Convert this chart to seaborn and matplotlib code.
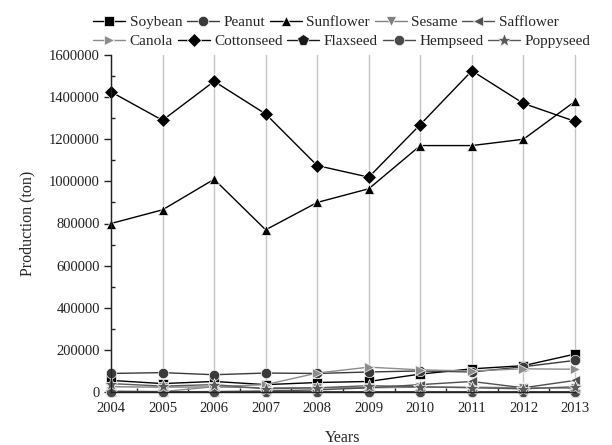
import numpy as np
import pandas as pd
import matplotlib
matplotlib.use("Agg")
import matplotlib.pyplot as plt
from matplotlib.ticker import MultipleLocator, StrMethodFormatter
import seaborn as sns

years = [2004, 2005, 2006, 2007, 2008, 2009, 2010, 2011, 2012, 2013]

soybean = [55000, 40000, 50000, 35000, 45000, 50000, 85000, 110000, 125000, 180000]
peanut = [88000, 92000, 82000, 90000, 88000, 95000, 100000, 95000, 120000, 150000]
sunflower = [800000, 865000, 1010000, 770000, 900000, 965000, 1170000, 1170000, 1200000, 1380000]
sesame = [25000, 23000, 24000, 20000, 20000, 20000, 23000, 23000, 20000, 18000]
safflower = [1000, 1000, 2000, 5000, 10000, 20000, 35000, 50000, 20000, 55000]
canola = [5000, 2000, 25000, 35000, 90000, 118000, 105000, 100000, 110000, 108000]
cottonseed = [1425000, 1290000, 1475000, 1320000, 1075000, 1020000, 1270000, 1525000, 1370000, 1285000]
flaxseed = [800, 900, 1000, 700, 600, 500, 600, 800, 700, 900]
hempseed = [30, 30, 20, 20, 20, 10, 10, 10, 10, 10]
poppyseed = [40000, 28000, 35000, 15000, 20000, 30000, 25000, 20000, 15000, 25000]

crops = ["Soybean", "Peanut", "Sunflower", "Sesame", "Safflower",
         "Canola", "Cottonseed", "Flaxseed", "Hempseed", "Poppyseed"]
series = [soybean, peanut, sunflower, sesame, safflower,
          canola, cottonseed, flaxseed, hempseed, poppyseed]

df = pd.DataFrame({
    "Year": np.tile(years, len(crops)),
    "Production": np.concatenate(series),
    "Crop": np.repeat(crops, len(years)),
})

colors = {
    "Soybean": "#000000", "Peanut": "#3a3a3a", "Sunflower": "#000000",
    "Sesame": "#808080", "Safflower": "#505050", "Canola": "#8c8c8c",
    "Cottonseed": "#000000", "Flaxseed": "#1a1a1a", "Hempseed": "#4a4a4a",
    "Poppyseed": "#5a5a5a",
}
markers = {
    "Soybean": "s", "Peanut": "o", "Sunflower": "^", "Sesame": "v",
    "Safflower": "<", "Canola": ">", "Cottonseed": "D", "Flaxseed": "p",
    "Hempseed": "o", "Poppyseed": "*",
}

sns.set_theme(style="ticks")
plt.rcParams["font.family"] = ["Liberation Serif", "DejaVu Serif"]
plt.rcParams["font.size"] = 10.5

fig = plt.figure(figsize=(6.12, 4.45), dpi=100)
ax = fig.add_axes([111 / 612, 53 / 445, 464 / 612, 337 / 445])

# light vertical guide lines at each year
for yr in years:
    ax.axvline(yr, color="#c4c4c4", lw=1.0, zorder=0)

sns.lineplot(data=df, x="Year", y="Production", hue="Crop", style="Crop",
             hue_order=crops, style_order=crops, palette=colors,
             markers=markers, dashes=False, markersize=7.5, linewidth=1.0,
             markeredgewidth=0.5, legend=False, ax=ax)

handles = [ln for ln in ax.lines if len(ln.get_xdata()) == len(years)][:len(crops)]
for ln in ax.lines:
    ln.set_clip_on(False)
# star and pentagon glyphs read small at the shared size
handles[crops.index("Poppyseed")].set_markersize(10)
handles[crops.index("Flaxseed")].set_markersize(8.5)

ax.set_xlim(2004, 2013)
ax.set_ylim(0, 1600000)
ax.set_xticks(years)
ax.set_xticklabels([str(y) for y in years])
ax.xaxis.set_minor_locator(MultipleLocator(0.5))
ax.yaxis.set_major_locator(MultipleLocator(200000))
ax.yaxis.set_minor_locator(MultipleLocator(100000))
ax.yaxis.set_major_formatter(StrMethodFormatter("{x:.0f}"))
ax.tick_params(axis="y", which="major", direction="out", length=5, width=1, pad=3)
ax.tick_params(axis="y", which="minor", direction="in", length=3, width=1)
ax.tick_params(axis="x", which="major", direction="in", length=0, pad=7)
ax.tick_params(axis="x", which="minor", direction="in", length=3, width=1)
ax.tick_params(labelsize=10.5, colors="#222222")

for side in ["top", "right"]:
    ax.spines[side].set_visible(False)
for side in ["left", "bottom"]:
    ax.spines[side].set_color("#222222")
    ax.spines[side].set_linewidth(1.0)

ax.set_xlabel("Years", fontsize=11.5, labelpad=11)
ax.set_ylabel("Production (ton)", fontsize=11.5, labelpad=10)

leg_kw = dict(ncol=5, frameon=False, handlelength=2.1, handletextpad=0.3,
              columnspacing=0.3, borderpad=0, borderaxespad=0, fontsize=11,
              loc="center left")
leg1 = fig.legend(handles[:5], crops[:5], bbox_to_anchor=(93 / 612, 1 - 22 / 445), **leg_kw)
leg2 = fig.legend(handles[5:], crops[5:], bbox_to_anchor=(93 / 612, 1 - 41 / 445), **leg_kw)

fig.savefig("out.png", dpi=100)
